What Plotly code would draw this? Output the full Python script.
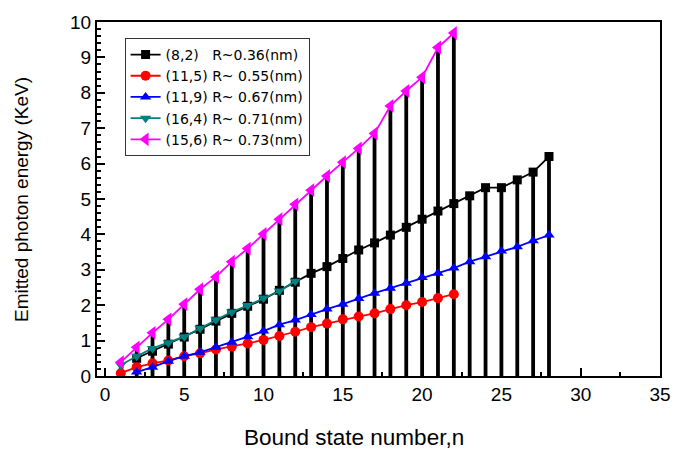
import plotly.graph_objects as go

# ---- data ----
n_82 = list(range(2, 29))
e_82 = [0.50, 0.70, 0.90, 1.10, 1.32, 1.55, 1.77, 1.97, 2.17, 2.42, 2.65,
        2.90, 3.09, 3.32, 3.56, 3.76, 3.98, 4.20, 4.43, 4.66, 4.87,
        5.09, 5.32, 5.32, 5.54, 5.76, 6.20]

n_115 = list(range(1, 23))
e_115 = [0.08, 0.25, 0.36, 0.44, 0.56, 0.64, 0.75, 0.83, 0.92, 1.02, 1.13,
         1.25, 1.38, 1.48, 1.60, 1.68, 1.77, 1.89, 2.00, 2.09, 2.20, 2.31]

n_119 = list(range(2, 29))
e_119 = [0.11, 0.25, 0.42, 0.56, 0.67, 0.81, 0.95, 1.11, 1.27, 1.45, 1.58,
         1.74, 1.89, 2.03, 2.19, 2.34, 2.48, 2.62, 2.78, 2.90, 3.05,
         3.23, 3.37, 3.53, 3.65, 3.82, 3.98]

n_164 = list(range(1, 13))
e_164 = [0.31, 0.56, 0.78, 0.94, 1.11, 1.35, 1.59, 1.81, 1.99, 2.20, 2.40, 2.68]

n_156 = list(range(1, 23))
e_156 = [0.39, 0.81, 1.22, 1.60, 2.03, 2.45, 2.80, 3.23, 3.60, 4.01, 4.43,
         4.85, 5.25, 5.65, 6.04, 6.43, 6.85, 7.63, 8.05, 8.44, 9.28, 9.69]

series = [
    ("(8,2)\u00a0\u00a0\u00a0R~0.36(nm)", n_82, e_82, "#000000", "square", 9),
    ("(11,5) R~ 0.55(nm)", n_115, e_115, "#FF0000", "circle", 10),
    ("(11,9) R~ 0.67(nm)", n_119, e_119, "#0000FF", "triangle-up", 10),
    ("(16,4) R~ 0.71(nm)", n_164, e_164, "#008080", "triangle-down", 10),
    ("(15,6) R~ 0.73(nm)", n_156, e_156, "#FF00FF", "triangle-left", 12),
]

# ---- drop lines (from the highest point at each n down to zero) ----
top = {}
for _, xs, ys, _, _, _ in series:
    for x, y in zip(xs, ys):
        top[x] = max(top.get(x, 0), y)
dx, dy = [], []
for x in sorted(top):
    dx += [x, x, None]
    dy += [0, top[x], None]

fig = go.Figure()
fig.add_trace(go.Scatter(x=dx, y=dy, mode="lines", line=dict(color="black", width=3.8),
                         showlegend=False, hoverinfo="skip"))
for name, xs, ys, col, sym, sz in series:
    fig.add_trace(go.Scatter(x=xs, y=ys, name=name, mode="lines+markers",
                             line=dict(color=col, width=1.8),
                             marker=dict(symbol=sym, size=sz, color=col)))

font = "Liberation Sans, Arial, sans-serif"
fig.update_layout(
    width=683, height=450,
    margin=dict(l=97, r=14, t=17, b=74),
    paper_bgcolor="white", plot_bgcolor="white",
    font=dict(family=font, color="black"),
    legend=dict(x=0.049, y=0.955, xanchor="left", yanchor="top",
                bordercolor="#333333", borderwidth=1, bgcolor="white",
                font=dict(size=14, family="DejaVu Sans"), tracegroupgap=0),
    xaxis=dict(range=[-0.5, 35], tickvals=[0, 5, 10, 15, 20, 25, 30, 35],
               ticks="inside", ticklen=8, tickwidth=1.5, tickcolor="black",
               minor=dict(tickvals=[2.5, 7.5, 12.5, 17.5, 22.5, 27.5, 32.5],
                          ticks="inside", ticklen=4, tickcolor="black"),
               showline=True, linecolor="black", linewidth=2, mirror=True,
               showgrid=False, zeroline=False,
               tickfont=dict(size=19)),
    yaxis=dict(range=[0, 10], dtick=1,
               ticks="inside", ticklen=8, tickwidth=1.5, tickcolor="black",
               minor=dict(dtick=0.2, ticks="inside", ticklen=4, tickcolor="black"),
               showline=True, linecolor="black", linewidth=2, mirror=True,
               showgrid=False, zeroline=False,
               tickfont=dict(size=19)),
    annotations=[
        dict(text="Bound state number,n", xref="paper", yref="paper",
             x=0.456, y=-0.173, xanchor="center", yanchor="middle",
             showarrow=False, font=dict(size=22.5)),
        dict(text="Emitted photon energy (KeV)", xref="paper", yref="paper",
             x=-0.135, y=0.5, xanchor="center", yanchor="middle", textangle=-90,
             showarrow=False, font=dict(size=19)),
    ],
)

fig.write_html("out.html")
